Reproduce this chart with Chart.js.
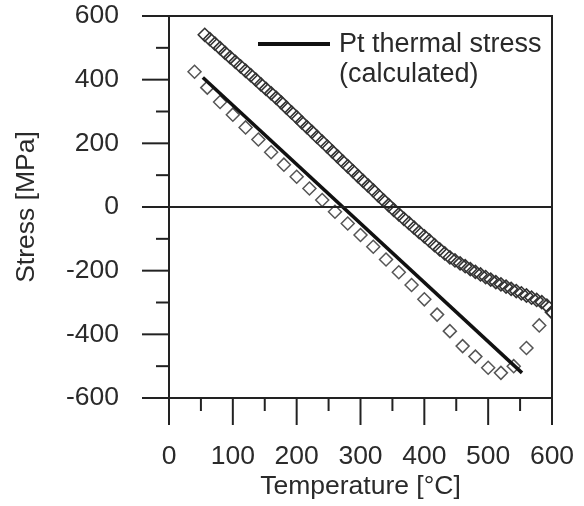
<!DOCTYPE html>
<html>
<head>
<meta charset="utf-8">
<script src="https://cdn.jsdelivr.net/npm/chart.js@4/dist/chart.umd.min.js"></script>
<style>
  body { margin: 0; background: #fff; }
  #wrap { width: 584px; height: 506px; position: relative; }
</style>
</head>
<body>
<div id="wrap"><canvas id="stressChart"></canvas></div>
<script>
// heating run (dense measurement)
const heatTemp = [56, 64, 72, 80, 88, 96, 104, 112, 120, 128, 136, 144, 152, 160, 168,
  176, 184, 192, 200, 208, 216, 224, 232, 240, 248, 256, 264, 272, 280, 288,
  296, 304, 312, 320, 328, 336, 344, 352, 360, 368, 376, 384, 392, 400, 408,
  416, 424, 432, 440, 448, 456, 464, 472, 480, 488, 496, 504, 512, 520, 528,
  536, 544, 552, 560, 568, 576, 584, 592, 600];
const heatStress = [541, 527, 513, 499, 484, 470, 456, 442, 428, 414, 400, 385, 371, 357, 343,
  328, 312, 297, 282, 266, 251, 236, 220, 205, 190, 174, 159, 143, 128, 113,
  97, 82, 67, 52, 36, 21, 6, -9, -23, -37, -51, -65, -79, -92, -106,
  -120, -133, -146, -158, -168, -177, -186, -195, -204, -212, -220, -228, -236, -243, -250,
  -257, -264, -271, -278, -285, -292, -299, -310, -330];

// cooling run
const coolTemp = [40, 60, 80, 100, 120, 140, 160, 180, 200, 220, 240, 260, 280, 300, 320,
  340, 360, 380, 400, 420, 440, 460, 480, 500, 520, 540, 560, 580, 600];
const coolStress = [425, 375, 330, 290, 250, 212, 172, 133, 95, 58, 22, -15, -52, -88, -125,
  -165, -205, -245, -290, -338, -390, -437, -470, -505, -521, -500, -443, -372, -331];

// calculated thermal stress of Pt
const calcTemp = [53, 553];
const calcStress = [407, -521];

const legendLines = ['Pt thermal stress', '(calculated)'];

const FONT = '"Liberation Sans", Arial, sans-serif';
const INK = '#2a2a2a';

function pts(xs, ys) {
  return xs.map((x, i) => ({ x: x, y: ys[i] }));
}

// fixed box sizes, no extra padding for overhanging labels
function fixBox(s, w, h) {
  if (w !== null) s.width = w;
  if (h !== null) s.height = h;
  s.paddingTop = 0;
  s.paddingBottom = 0;
  s.paddingLeft = 0;
  s.paddingRight = 0;
}

// frame, zero line and outward ticks (major / minor)
const axesPlugin = {
  id: 'axesFrame',
  afterDatasetsDraw(chart) {
    const { ctx, chartArea: a, scales: { x, y } } = chart;
    ctx.save();
    ctx.strokeStyle = '#222';
    ctx.lineWidth = 2;
    ctx.beginPath();
    ctx.rect(a.left, a.top, a.right - a.left, a.bottom - a.top);
    ctx.stroke();
    // zero line
    const y0 = y.getPixelForValue(0);
    ctx.lineWidth = 1.8;
    ctx.beginPath();
    ctx.moveTo(a.left, y0);
    ctx.lineTo(a.right, y0);
    ctx.stroke();
    ctx.lineWidth = 2;
    y.ticks.forEach(t => {
      const py = y.getPixelForValue(t.value);
      const len = t.value % 200 === 0 ? 27 : 13;
      ctx.beginPath();
      ctx.moveTo(a.left - len, py);
      ctx.lineTo(a.left, py);
      ctx.stroke();
    });
    x.ticks.forEach(t => {
      const px = x.getPixelForValue(t.value);
      const len = t.value % 100 === 0 ? 27 : 13;
      ctx.beginPath();
      ctx.moveTo(px, a.bottom);
      ctx.lineTo(px, a.bottom + len);
      ctx.stroke();
    });
    ctx.restore();
  }
};

// legend entry for the calculated line
const legendPlugin = {
  id: 'calcLegend',
  afterDraw(chart) {
    const { ctx, chartArea: a } = chart;
    const lx = a.left + 89, ly = a.top + 28;
    ctx.save();
    ctx.strokeStyle = '#111';
    ctx.lineWidth = 4;
    ctx.beginPath();
    ctx.moveTo(lx, ly);
    ctx.lineTo(lx + 72, ly);
    ctx.stroke();
    ctx.fillStyle = INK;
    ctx.font = '27px ' + FONT;
    ctx.textBaseline = 'middle';
    ctx.fillText(legendLines[0], lx + 81, ly + 1);
    ctx.fillText(legendLines[1], lx + 81, ly + 31);
    ctx.restore();
  }
};

new Chart(document.getElementById('stressChart'), {
  type: 'scatter',
  data: {
    datasets: [
      {
        label: 'calculated',
        type: 'line',
        data: pts(calcTemp, calcStress),
        borderColor: '#111',
        borderWidth: 3.5,
        pointRadius: 0,
        order: 0
      },
      {
        label: 'heating',
        data: pts(heatTemp, heatStress),
        pointStyle: 'rectRot',
        pointRadius: 6.5,
        borderColor: '#333',
        borderWidth: 1.6,
        backgroundColor: 'rgba(0,0,0,0)',
        order: 1
      },
      {
        label: 'cooling',
        data: pts(coolTemp, coolStress),
        pointStyle: 'rectRot',
        pointRadius: 6.5,
        borderColor: '#555',
        borderWidth: 1.5,
        backgroundColor: 'rgba(0,0,0,0)',
        order: 2
      }
    ]
  },
  options: {
    responsive: true,
    maintainAspectRatio: false,
    animation: false,
    layout: { padding: { top: 16, right: 32, left: 0, bottom: 0 } },
    plugins: {
      legend: { display: false },
      tooltip: { enabled: false }
    },
    scales: {
      x: {
        type: 'linear',
        min: 0,
        max: 600,
        afterFit: s => fixBox(s, null, 108),
        grid: { display: false },
        border: { display: false },
        ticks: {
          stepSize: 50,
          autoSkip: false,
          maxRotation: 0,
          padding: 35,
          color: INK,
          font: { family: FONT, size: 26.5 },
          callback: v => (v % 100 === 0 ? v : '')
        },
        title: {
          display: true,
          text: 'Temperature [°C]',
          color: INK,
          font: { family: FONT, size: 26.5 },
          padding: { top: 0, bottom: 3 }
        }
      },
      y: {
        type: 'linear',
        min: -600,
        max: 600,
        afterFit: s => fixBox(s, 169, null),
        grid: { display: false },
        border: { display: false },
        ticks: {
          stepSize: 100,
          autoSkip: false,
          padding: 42,
          color: INK,
          font: { family: FONT, size: 26.5 },
          callback: v => (v % 200 === 0 ? v : '')
        },
        title: {
          display: true,
          text: 'Stress [MPa]',
          color: INK,
          font: { family: FONT, size: 26.5 },
          padding: { top: 11, bottom: 0 }
        }
      }
    }
  },
  plugins: [axesPlugin, legendPlugin]
});
</script>
</body>
</html>
